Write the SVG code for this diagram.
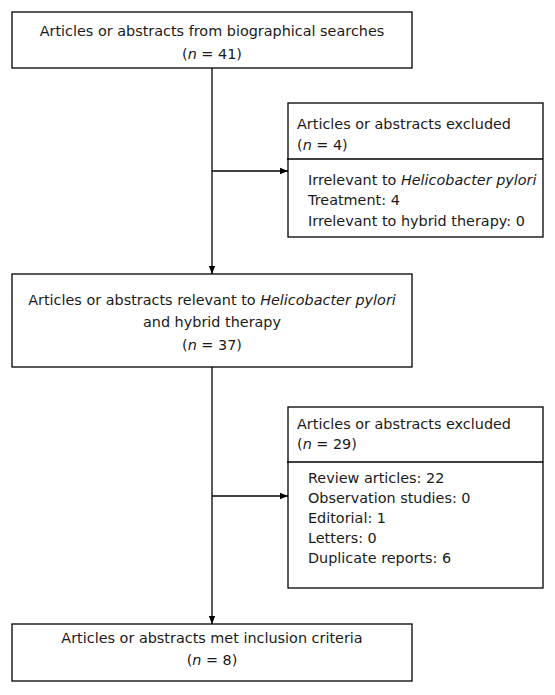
<svg xmlns="http://www.w3.org/2000/svg" width="555" height="695" viewBox="0 0 555 695">
<defs>
<style>
.box{fill:#fff;stroke:#000;stroke-width:1.3}
.ln{fill:none;stroke:#000;stroke-width:1.3}
text{font-family:"DejaVu Sans","Liberation Sans",sans-serif;font-size:14.4px;fill:#1a1a1a}
.c{text-anchor:middle}
.i{font-style:italic}
</style>
<marker id="ah" viewBox="0 0 10 10" refX="10" refY="5" markerWidth="8" markerHeight="8" markerUnits="userSpaceOnUse" orient="auto">
<path d="M0,1 L10,5 L0,9 Z" fill="#000"/>
</marker>
</defs>
<rect width="555" height="695" fill="#fff"/>
<g id="connectors">
<line class="ln" x1="212" y1="68" x2="212" y2="274" marker-end="url(#ah)"/>
<line class="ln" x1="212" y1="171" x2="288" y2="171" marker-end="url(#ah)"/>
<line class="ln" x1="212" y1="367" x2="212" y2="624" marker-end="url(#ah)"/>
<line class="ln" x1="212" y1="496" x2="288" y2="496" marker-end="url(#ah)"/>
</g>
<g id="n1">
<rect class="box" x="12" y="12" width="400" height="56"/>
<text class="c" x="212" y="36">Articles or abstracts from biographical searches</text>
<text class="c" x="212" y="59">(<tspan class="i">n</tspan> = 41)</text>
</g>
<g id="n2">
<rect class="box" x="288" y="103" width="255" height="134"/>
<line class="ln" x1="287" y1="159" x2="543" y2="159"/>
<text x="297" y="129">Articles or abstracts excluded</text>
<text x="297" y="150">(<tspan class="i">n</tspan> = 4)</text>
<text x="308" y="185">Irrelevant to <tspan class="i">Helicobacter pylori</tspan></text>
<text x="308" y="205">Treatment: 4</text>
<text x="308" y="226">Irrelevant to hybrid therapy: 0</text>
</g>
<g id="n3">
<rect class="box" x="12" y="274" width="400" height="93"/>
<text class="c" x="212" y="305">Articles or abstracts relevant to <tspan class="i">Helicobacter pylori</tspan></text>
<text class="c" x="212" y="327">and hybrid therapy</text>
<text class="c" x="212" y="350">(<tspan class="i">n</tspan> = 37)</text>
</g>
<g id="n4">
<rect class="box" x="288" y="407" width="255" height="181"/>
<line class="ln" x1="287" y1="462" x2="543" y2="462"/>
<text x="297" y="429">Articles or abstracts excluded</text>
<text x="297" y="449">(<tspan class="i">n</tspan> = 29)</text>
<text x="308" y="483">Review articles: 22</text>
<text x="308" y="503">Observation studies: 0</text>
<text x="308" y="523">Editorial: 1</text>
<text x="308" y="543">Letters: 0</text>
<text x="308" y="563">Duplicate reports: 6</text>
</g>
<g id="n5">
<rect class="box" x="12" y="624" width="400" height="57"/>
<text class="c" x="212" y="643">Articles or abstracts met inclusion criteria</text>
<text class="c" x="212" y="665">(<tspan class="i">n</tspan> = 8)</text>
</g>
</svg>
